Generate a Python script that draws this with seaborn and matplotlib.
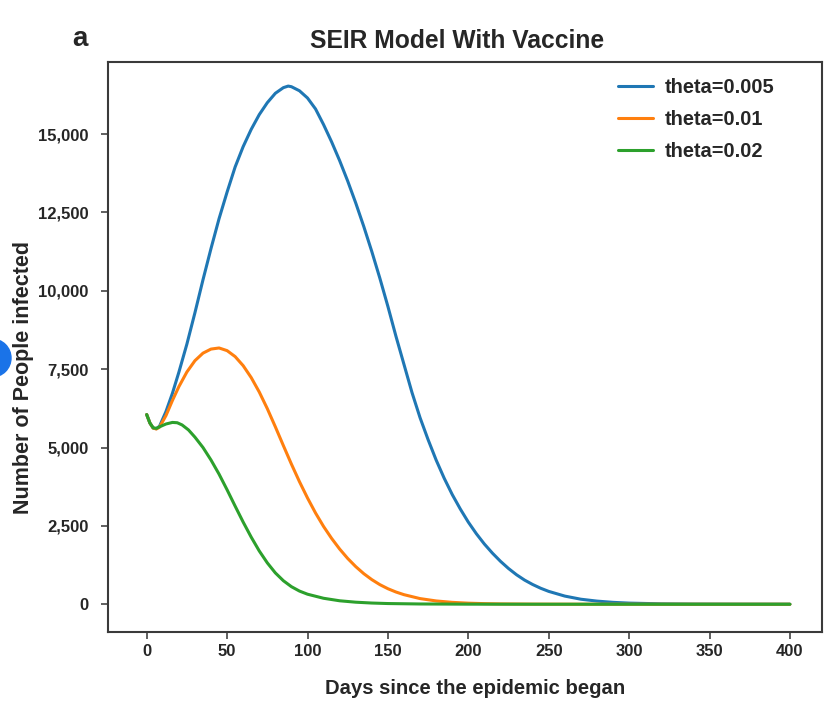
#!/usr/bin/env python3
"""SEIR model with vaccine: infected people over time for three vaccination rates."""
import matplotlib

matplotlib.use("Agg")
import matplotlib.pyplot as plt
from matplotlib.ticker import FuncFormatter
from matplotlib.patches import Circle
import pandas as pd
import seaborn as sns

# values
DAYS_005 = [0, 2, 4, 6, 8, 12, 16, 20, 25, 30, 35, 40, 45, 50, 55, 60, 65, 70, 75,
            80, 85, 88, 90, 95, 100, 105, 110, 115, 120, 125, 130, 135, 140, 145,
            150, 155, 160, 165, 170, 175, 180, 185, 190, 195, 200, 205, 210, 215,
            220, 225, 230, 235, 240, 245, 250, 260, 270, 280, 290, 300, 320, 340,
            370, 400]
INF_005 = [6050, 5780, 5620, 5600, 5680, 6150, 6730, 7400, 8300, 9300, 10350, 11350,
           12300, 13150, 13950, 14600, 15150, 15620, 16000, 16300, 16480, 16530,
           16510, 16380, 16150, 15800, 15300, 14750, 14150, 13500, 12800, 12050,
           11250, 10400, 9500, 8550, 7650, 6750, 5950, 5250, 4600, 4020, 3500, 3040,
           2620, 2250, 1920, 1630, 1370, 1140, 940, 770, 630, 510, 410, 260, 160, 100,
           60, 36, 13, 5, 1, 0]

DAYS_01 = [0, 2, 4, 6, 8, 12, 16, 20, 25, 30, 35, 40, 45, 50, 55, 60, 65, 70, 75, 80,
           85, 90, 95, 100, 105, 110, 115, 120, 125, 130, 135, 140, 145, 150, 155,
           160, 170, 180, 190, 200, 210, 220, 240, 260, 300, 400]
INF_01 = [6050, 5780, 5620, 5590, 5650, 6020, 6500, 6940, 7410, 7770, 8010, 8140, 8175,
          8090, 7900, 7610, 7230, 6770, 6240, 5660, 5060, 4470, 3910, 3390, 2910, 2480,
          2100, 1760, 1460, 1200, 975, 785, 625, 495, 390, 305, 180, 105, 60, 34, 19,
          10, 3, 1, 0, 0]

DAYS_02 = [0, 2, 4, 6, 8, 12, 16, 19, 22, 26, 30, 35, 40, 45, 50, 55, 60, 65, 70, 75,
           80, 85, 90, 95, 100, 110, 120, 130, 140, 150, 170, 200, 250, 400]
INF_02 = [6050, 5780, 5630, 5610, 5660, 5750, 5800, 5790, 5720, 5560, 5330, 5000, 4600,
          4150, 3650, 3130, 2620, 2140, 1700, 1320, 1000, 750, 560, 420, 320, 190, 110,
          65, 38, 22, 8, 2, 0, 0]

SERIES = ["theta=0.005", "theta=0.01", "theta=0.02"]
COLORS = ["#1f77b4", "#ff7f0e", "#2ca02c"]


def main():
    frames = []
    for name, days, vals in zip(SERIES, [DAYS_005, DAYS_01, DAYS_02],
                                [INF_005, INF_01, INF_02]):
        frames.append(pd.DataFrame({"day": days, "infected": vals, "series": name}))
    df = pd.concat(frames, ignore_index=True)

    sns.set_theme(style="ticks")
    plt.rcParams["font.family"] = ["Liberation Sans", "DejaVu Sans"]
    plt.rcParams["font.weight"] = "bold"

    fig = plt.figure(figsize=(8.38, 7.12), dpi=100)
    ax = fig.add_axes([0.129, 0.112, 0.852, 0.801])

    sns.lineplot(data=df, x="day", y="infected", hue="series", hue_order=SERIES,
                 palette=COLORS, linewidth=2.2, ax=ax, estimator=None, sort=False)

    ax.set_xlim(-24, 420)
    ax.set_ylim(-894, 17300)
    ax.set_xticks(range(0, 401, 50))
    ax.set_yticks(range(0, 15001, 2500))
    ax.yaxis.set_major_formatter(FuncFormatter(lambda v, p: f"{int(v):,}"))
    ax.tick_params(axis="both", labelsize=12, length=5, width=1.2, color="#444444")
    ax.tick_params(axis="y", pad=9)
    for lab in ax.get_xticklabels() + ax.get_yticklabels():
        lab.set_fontweight("bold")
    for sp in ax.spines.values():
        sp.set_visible(True)
        sp.set_color("#3a3a3a")
        sp.set_linewidth(1.5)

    ax.set_xlabel("Days since the epidemic began", fontsize=14.6, fontweight="bold")
    ax.xaxis.set_label_coords(0.514, -0.082)
    ax.set_ylabel("Number of People infected", fontsize=15.5, fontweight="bold")
    ax.yaxis.set_label_coords(-0.104, 0.446)
    ax.set_title("SEIR Model With Vaccine", fontsize=17.7, fontweight="bold", pad=10,
                 x=0.489)
    fig.text(0.095, 0.945, "a", fontsize=20, fontweight="bold", ha="center",
             va="center")

    leg = ax.legend(loc="upper right", bbox_to_anchor=(0.945, 0.985), frameon=False,
                    fontsize=14.4, handlelength=1.75, handletextpad=0.6,
                    labelspacing=0.64, borderaxespad=0, title=None)
    for t in leg.get_texts():
        t.set_fontweight("bold")
    for h in leg.get_lines():
        h.set_linewidth(2.2)

    # partial blue dot at the left edge of the reference screenshot
    dot = Circle((-8 / 100, (712 - 358) / 100), 19 / 100, color="#1a73e8", zorder=5,
                 transform=fig.dpi_scale_trans)
    fig.patches.append(dot)

    fig.savefig("out.png", dpi=100)
    plt.close(fig)


if __name__ == "__main__":
    main()
